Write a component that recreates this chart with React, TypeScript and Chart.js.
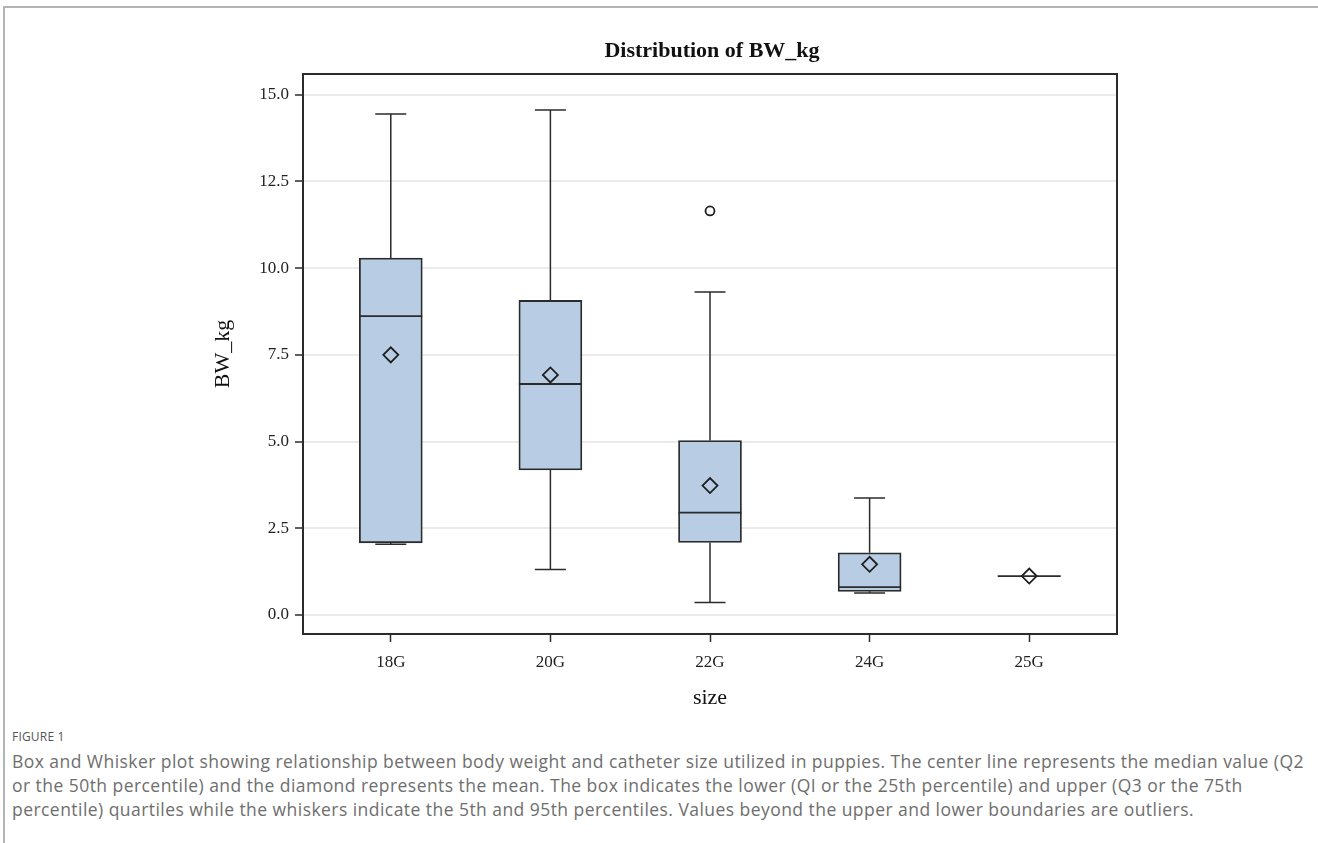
import React, { useEffect, useRef } from "react";
import { Chart, registerables } from "chart.js";

Chart.register(...registerables);

const categories = ["18G", "20G", "22G", "24G", "25G"];
const whiskerLow = [2.04, 1.31, 0.36, 0.63, 1.12];
const q1 = [2.08, 4.18, 2.09, 0.68, 1.12];
const median = [8.62, 6.66, 2.95, 0.8, 1.12];
const q3 = [10.29, 9.07, 5.03, 1.79, 1.12];
const whiskerHigh = [14.45, 14.56, 9.31, 3.37, 1.12];
const means = [7.5, 6.92, 3.73, 1.46, 1.12];
const outlierCategory = [2];
const outlierValue = [11.65];
const yTicks = [0, 2.5, 5, 7.5, 10, 12.5, 15];
const chartTitle = "Distribution of BW_kg";

const SERIF = "'Times New Roman', 'Liberation Serif', serif";
const LINE = "#2b2b2b";

const captionLines = [
  "Box and Whisker plot showing relationship between body weight and catheter size utilized in puppies. The center line represents the median value (Q2",
  "or the 50th percentile) and the diamond represents the mean. The box indicates the lower (QI or the 25th percentile) and upper (Q3 or the 75th",
  "percentile) quartiles while the whiskers indicate the 5th and 95th percentiles. Values beyond the upper and lower boundaries are outliers.",
];

const boxPlugin = {
  id: "boxParts",
  beforeDatasetsDraw(chart: any) {
    const { ctx, scales } = chart;
    const x = scales.x;
    const y = scales.y;
    ctx.save();
    ctx.strokeStyle = LINE;
    ctx.lineWidth = 1.5;
    const capHalf = 15.5;
    categories.forEach((_, i) => {
      const px = x.getPixelForValue(i);
      if (whiskerHigh[i] > q3[i]) {
        ctx.beginPath();
        ctx.moveTo(px, y.getPixelForValue(q3[i]));
        ctx.lineTo(px, y.getPixelForValue(whiskerHigh[i]));
        ctx.moveTo(px - capHalf, y.getPixelForValue(whiskerHigh[i]));
        ctx.lineTo(px + capHalf, y.getPixelForValue(whiskerHigh[i]));
        ctx.stroke();
      }
      if (whiskerLow[i] < q1[i]) {
        ctx.beginPath();
        ctx.moveTo(px, y.getPixelForValue(q1[i]));
        ctx.lineTo(px, y.getPixelForValue(whiskerLow[i]));
        ctx.moveTo(px - capHalf, y.getPixelForValue(whiskerLow[i]));
        ctx.lineTo(px + capHalf, y.getPixelForValue(whiskerLow[i]));
        ctx.stroke();
      }
    });
    ctx.restore();
  },
  afterDatasetDraw(chart: any, args: any) {
    if (args.index !== 0) return;
    const { ctx, scales } = chart;
    const x = scales.x;
    const y = scales.y;
    ctx.save();
    ctx.strokeStyle = LINE;
    ctx.lineWidth = 1.8;
    const half = 31.5;
    categories.forEach((_, i) => {
      const px = x.getPixelForValue(i);
      const py = y.getPixelForValue(median[i]);
      ctx.beginPath();
      ctx.moveTo(px - half, py);
      ctx.lineTo(px + half, py);
      ctx.stroke();
    });
    ctx.restore();
  },
  afterDraw(chart: any) {
    const { ctx, chartArea } = chart;
    ctx.save();
    ctx.strokeStyle = LINE;
    ctx.lineWidth = 2;
    ctx.strokeRect(chartArea.left, chartArea.top, chartArea.right - chartArea.left, chartArea.bottom - chartArea.top);
    ctx.fillStyle = "#111";
    ctx.font = `bold 22px ${SERIF}`;
    ctx.textAlign = "center";
    ctx.textBaseline = "middle";
    ctx.fillText(chartTitle, (chartArea.left + chartArea.right) / 2 + 2, chartArea.top - 23);
    ctx.restore();
  },
};

function BoxChart() {
  const ref = useRef<HTMLCanvasElement>(null);
  useEffect(() => {
    if (!ref.current) return;
    const chart = new Chart(ref.current, {
      type: "bar",
      data: {
        datasets: [
          {
            type: "bar",
            data: categories.map((_, i) => ({ x: i, y: [q1[i], q3[i]] })) as any,
            backgroundColor: "#b8cde4",
            borderColor: LINE,
            borderWidth: 1.8,
            borderSkipped: false,
            barThickness: 63,
            grouped: false,
            order: 2,
          } as any,
          {
            type: "scatter",
            data: means.map((m, i) => ({ x: i, y: m })),
            pointStyle: "rectRot",
            pointRadius: 7.5,
            borderColor: "#1e1e1e",
            borderWidth: 1.8,
            backgroundColor: "rgba(0,0,0,0)",
            order: 0,
          } as any,
          {
            type: "scatter",
            data: outlierCategory.map((c, i) => ({ x: c, y: outlierValue[i] })),
            pointStyle: "circle",
            pointRadius: 4.5,
            borderColor: "#1e1e1e",
            borderWidth: 1.8,
            backgroundColor: "#ffffff",
            order: 0,
          } as any,
        ],
      },
      options: {
        animation: false,
        responsive: true,
        maintainAspectRatio: false,
        layout: { padding: { left: 0, right: 201, top: 74, bottom: 6 } },
        plugins: {
          legend: { display: false },
          tooltip: { enabled: false },
          title: { display: false },
        },
        scales: {
          x: {
            type: "linear",
            offset: false,
            min: -0.55,
            max: 4.55,
            afterBuildTicks: (s: any) => {
              s.ticks = categories.map((_, i) => ({ value: i }));
            },
            afterFit: (s: any) => {
              s.height = 80;
            },
            ticks: {
              callback: (v: any) => categories[Math.round(Number(v))] ?? "",
              color: "#222",
              font: { family: SERIF, size: 17 },
              padding: 10,
              maxRotation: 0,
              autoSkip: false,
            },
            grid: {
              offset: false,
              drawOnChartArea: false,
              drawTicks: true,
              tickLength: 8,
              tickColor: LINE,
              tickWidth: 1.5,
            },
            border: { display: false },
            title: {
              display: true,
              text: "size",
              color: "#111",
              font: { family: SERIF, size: 22 },
              padding: { top: 0, bottom: 3 },
            },
          },
          y: {
            type: "linear",
            min: -0.55,
            max: 15.6,
            afterBuildTicks: (s: any) => {
              s.ticks = yTicks.map((v) => ({ value: v }));
            },
            afterFit: (s: any) => {
              s.width = 303;
            },
            ticks: {
              callback: (v: any) => Number(v).toFixed(1),
              color: "#222",
              font: { family: SERIF, size: 17 },
              padding: 6,
            },
            grid: {
              color: "#ebebeb",
              lineWidth: 2,
              drawTicks: true,
              tickLength: 8,
              tickColor: LINE,
              tickWidth: 1.5,
            },
            border: { display: false },
            title: {
              display: true,
              text: "BW_kg",
              color: "#111",
              font: { family: SERIF, size: 22 },
              padding: { top: 210, bottom: 0 },
            },
          },
        },
      } as any,
      plugins: [boxPlugin],
    });
    return () => chart.destroy();
  }, []);
  return (
    <div style={{ position: "absolute", left: 0, top: 0, width: 1318, height: 720 }}>
      <canvas ref={ref} />
    </div>
  );
}

export default function App() {
  return (
    <div
      style={{
        position: "fixed",
        left: 0,
        top: 0,
        width: 1318,
        height: 843,
        background: "#ffffff",
        overflow: "hidden",
      }}
    >
      <div
        style={{
          position: "absolute",
          left: 3,
          top: 6,
          width: 1320,
          height: 850,
          borderTop: "2px solid #b4b4b4",
          borderLeft: "2px solid #b4b4b4",
        }}
      />
      <BoxChart />
      <div
        style={{
          position: "absolute",
          left: 12,
          top: 729,
          fontFamily: "'Open Sans', 'Noto Sans', sans-serif",
          fontSize: 12,
          color: "#555",
          lineHeight: "16px",
          letterSpacing: 0.2,
        }}
      >
        FIGURE 1
      </div>
      <div
        style={{
          position: "absolute",
          left: 12,
          top: 749,
          fontFamily: "'Open Sans', 'Noto Sans', sans-serif",
          fontSize: 17.5,
          color: "#6e6e6e",
          lineHeight: "24px",
          letterSpacing: 0.45,
          whiteSpace: "nowrap",
        }}
      >
        {captionLines.map((l, i) => (
          <div key={i}>{l}</div>
        ))}
      </div>
    </div>
  );
}
